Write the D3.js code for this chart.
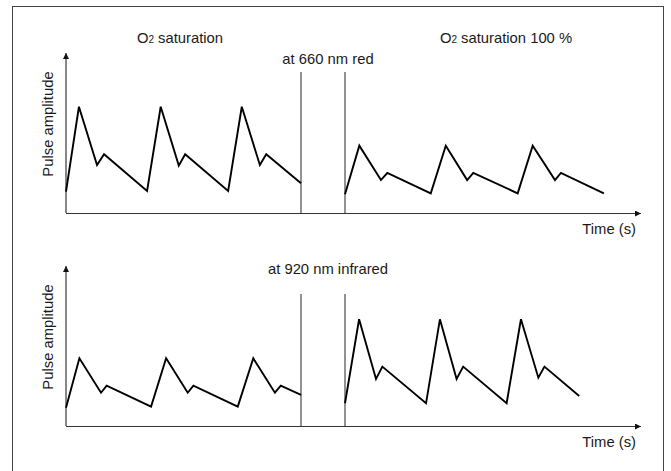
<!DOCTYPE html>
<html>
<head>
<meta charset="utf-8">
<script src="https://cdn.jsdelivr.net/npm/d3@7"></script>
<style>
  body { margin: 0; background: #fff; }
  text { font-family: "Liberation Sans", Arial, sans-serif; fill: #1a1a1a; }
</style>
</head>
<body>
<script>
// pulse curves, time in arbitrary units, amplitude in arbitrary units
var redLowT   = [0, 0.55, 1.32, 1.62, 3.45, 4.03, 4.8, 5.07, 6.9, 7.48, 8.25, 8.52, 10];
var redLowA   = [1.33, 6.64, 3.0, 3.67, 1.38, 6.64, 2.96, 3.67, 1.38, 6.64, 3.0, 3.67, 1.86];
var redHighT  = [0, 0.61, 1.53, 1.8, 3.65, 4.29, 5.2, 5.46, 7.35, 7.99, 8.94, 9.19, 11.02];
var redHighA  = [1.17, 4.21, 2.06, 2.5, 1.23, 4.21, 2.06, 2.5, 1.23, 4.21, 2.06, 2.5, 1.23];
var irLowT    = [0, 0.57, 1.49, 1.73, 3.62, 4.26, 5.18, 5.42, 7.31, 7.97, 8.89, 9.14, 10];
var irLowA    = [1.14, 4.23, 2.08, 2.52, 1.21, 4.23, 2.08, 2.52, 1.21, 4.23, 2.08, 2.52, 1.94];
var irHighT   = [0, 0.6, 1.32, 1.59, 3.45, 4.04, 4.75, 5.03, 6.88, 7.49, 8.23, 8.49, 9.97];
var irHighA   = [1.42, 6.67, 2.94, 3.71, 1.42, 6.67, 2.94, 3.71, 1.42, 6.67, 3.02, 3.71, 1.88];

var panelLabels = ["at 660 nm red", "at 920 nm infrared"];
var yLabel = "Pulse amplitude";
var xLabel = "Time (s)";

var W = 671, H = 471;

var svg = d3.select("body").append("svg")
  .attr("width", W)
  .attr("height", H);

svg.append("defs").append("marker")
  .attr("id", "arrow")
  .attr("viewBox", "0 0 10 10")
  .attr("refX", 10).attr("refY", 5)
  .attr("markerWidth", 9).attr("markerHeight", 6)
  .attr("markerUnits", "userSpaceOnUse")
  .attr("orient", "auto")
  .append("path")
  .attr("d", "M0,0L10,5L0,10Z")
  .attr("fill", "#111");

// frame
svg.append("rect")
  .attr("x", 12.5).attr("y", 6.5)
  .attr("width", 651).attr("height", 480)
  .attr("fill", "none")
  .attr("stroke", "#444")
  .attr("stroke-width", 1);

// time scales: left half (low saturation), right half (100 %)
var xLeft = d3.scaleLinear().domain([0, 10]).range([66, 301]);
var xRight = d3.scaleLinear().domain([0, 12.6]).range([345, 641]);

var panels = [
  { top: 53, base: 213, sepTop: 72, label: panelLabels[0], labelY: 64, timeY: 234,
    left: [redLowT, redLowA], right: [redHighT, redHighA] },
  { top: 266, base: 426, sepTop: 294, label: panelLabels[1], labelY: 274, timeY: 447,
    left: [irLowT, irLowA], right: [irHighT, irHighA] }
];

panels.forEach(function(p) {
  var y = d3.scaleLinear().domain([0, 10]).range([p.base, p.top]);
  var g = svg.append("g");

  // y axis with arrow
  g.append("line")
    .attr("x1", xLeft(0)).attr("x2", xLeft(0))
    .attr("y1", y(0)).attr("y2", y(10))
    .attr("stroke", "#111").attr("stroke-width", 1)
    .attr("marker-end", "url(#arrow)");

  // x axis with arrow
  g.append("line")
    .attr("x1", xLeft(0)).attr("x2", xRight(12.6))
    .attr("y1", y(0) + 0.5).attr("y2", y(0) + 0.5)
    .attr("stroke", "#333").attr("stroke-width", 1)
    .attr("marker-end", "url(#arrow)");

  // separators
  [xLeft(10), xRight(0)].forEach(function(sx) {
    g.append("line")
      .attr("x1", sx).attr("x2", sx)
      .attr("y1", p.sepTop).attr("y2", y(0))
      .attr("stroke", "#777").attr("stroke-width", 1.6);
  });

  var lineL = d3.line().x(function(d) { return xLeft(d[0]); }).y(function(d) { return y(d[1]); });
  var lineR = d3.line().x(function(d) { return xRight(d[0]); }).y(function(d) { return y(d[1]); });

  g.append("path")
    .datum(d3.zip(p.left[0], p.left[1]))
    .attr("d", lineL)
    .attr("fill", "none").attr("stroke", "#000")
    .attr("stroke-width", 1.9).attr("stroke-linejoin", "miter");

  g.append("path")
    .datum(d3.zip(p.right[0], p.right[1]))
    .attr("d", lineR)
    .attr("fill", "none").attr("stroke", "#000")
    .attr("stroke-width", 1.9).attr("stroke-linejoin", "miter");

  g.append("text")
    .attr("x", (xLeft(10) + xRight(0)) / 2 + 5)
    .attr("y", p.labelY)
    .attr("text-anchor", "middle")
    .attr("font-size", 14.8)
    .text(p.label);

  g.append("text")
    .attr("x", 636).attr("y", p.timeY)
    .attr("text-anchor", "end")
    .attr("font-size", 14.8)
    .text(xLabel);

  g.append("text")
    .attr("transform", "translate(53," + ((p.base + p.top) / 2 - 9) + ") rotate(-90)")
    .attr("text-anchor", "middle")
    .attr("font-size", 14.8)
    .text(yLabel);
});

// saturation titles
function o2Title(x, rest) {
  var t = svg.append("text")
    .attr("x", x).attr("y", 43)
    .attr("text-anchor", "middle")
    .attr("font-size", 14.8);
  t.append("tspan").text("O");
  t.append("tspan").attr("font-size", 10).text("2");
  t.append("tspan").text(rest);
}
o2Title(180, " saturation");
o2Title(506, " saturation 100 %");
</script>
</body>
</html>
